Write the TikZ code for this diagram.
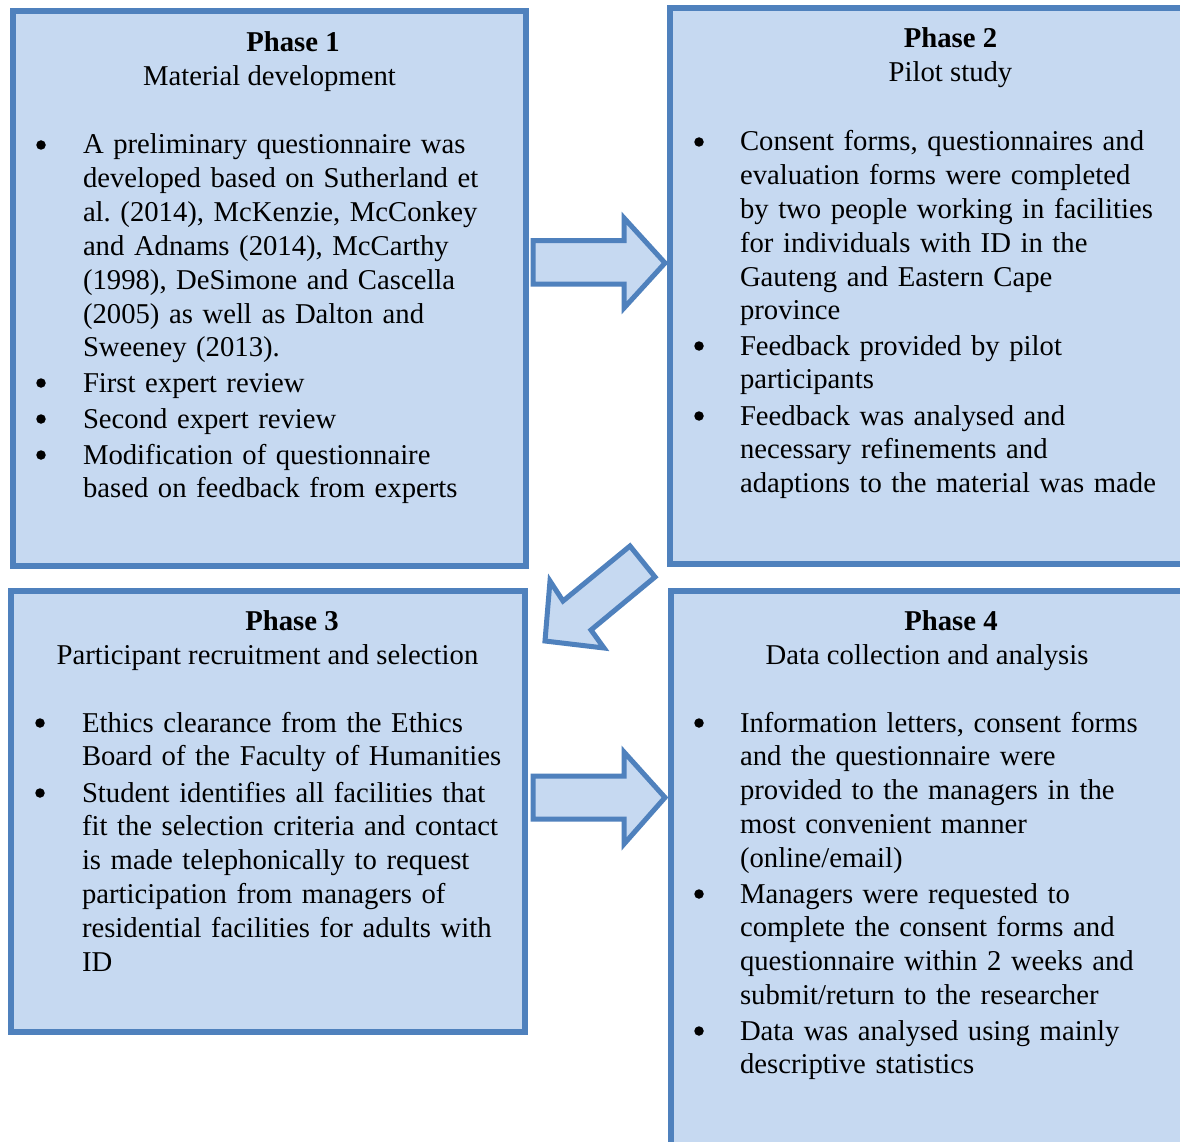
\documentclass[tikz,border=0pt]{standalone}
\usepackage{fontspec}
\setmainfont{Liberation Serif}
\frenchspacing
\definecolor{boxfill}{HTML}{C6D9F1}
\definecolor{boxline}{HTML}{4F81BD}
\tikzset{
  phasebox/.style={draw=boxline, fill=boxfill, line width=6pt, rectangle, inner sep=0pt, outer sep=0pt},
  blockarrow/.style={draw=boxline, fill=boxfill, line width=5pt, line join=miter},
  txt/.style={font=\fontsize{28.7}{33.8}\selectfont\frenchspacing, inner sep=0pt, outer sep=0pt},
  ttl/.style={txt, anchor=base},
  bul/.style={circle, fill=black, inner sep=0pt, minimum size=9.5pt},
  itm/.style={txt, anchor=base west, text width=520pt, align=left},
}
\newcommand\bitem[5]{%
  \node[bul] (#1b) at (#2,#4-9) {};
  \node[itm] (#1) at (#3,#4) {#5};}
\begin{document}
\begin{tikzpicture}[x=1pt,y=-1pt]
\useasboundingbox (0,0) rectangle (1180,1142);
\clip (0,0) rectangle (1180,1142);
\fill[white] (0,0) rectangle (1180,1142);
% boxes
\node[phasebox, minimum width=513pt, minimum height=555pt] (p1) at (269.5,288.5) {};
\node[phasebox, minimum width=514pt, minimum height=556pt] (p2) at (927,286) {};
\node[phasebox, minimum width=513.5pt, minimum height=441pt] (p3) at (267.75,811.5) {};
\node[phasebox, minimum width=513.5pt, minimum height=554pt] (p4) at (927.25,868) {};
% arrows
\draw[blockarrow] (533,240.5) -- (624,240.5) -- (624,218) -- (665,263) -- (624,308) -- (624,284) -- (533,284) -- cycle;
\draw[blockarrow] (533,776) -- (624,776) -- (624,752) -- (665,797.5) -- (624,844) -- (624,819) -- (533,819) -- cycle;
\draw[blockarrow] (630,546) -- (655,577) -- (591,630) -- (604,648) -- (545,641) -- (550,581) -- (563,601) -- cycle;
% Phase 1
\node[ttl] (t1) at (293,52) {\textbf{Phase 1}};
\node[ttl] (s1) at (269.5,86) {Material development};
\bitem{a1}{41}{83}{154}{A preliminary questionnaire was\\developed based on Sutherland et\\al. (2014), McKenzie, McConkey\\and Adnams (2014), McCarthy\\(1998), DeSimone and Cascella\\(2005) as well as Dalton and\\Sweeney (2013).}
\bitem{a2}{41}{83}{392}{First expert review}
\bitem{a3}{41}{83}{428}{Second expert review}
\bitem{a4}{41}{83}{464}{Modification of questionnaire\\based on feedback from experts}
% Phase 2
\node[ttl] (t2) at (950.5,48) {\textbf{Phase 2}};
\node[ttl] (s2) at (950.5,82) {Pilot study};
\bitem{b1}{699}{740}{151}{Consent forms, questionnaires and\\evaluation forms were completed\\by two people working in facilities\\for individuals with ID in the\\Gauteng and Eastern Cape\\province}
\bitem{b2}{699}{740}{355}{Feedback provided by pilot\\participants}
\bitem{b3}{699}{740}{425}{Feedback was analysed and\\necessary refinements and\\adaptions to the material was made}
% Phase 3
\node[ttl] (t3) at (292,630) {\textbf{Phase 3}};
\node[ttl] (s3) at (267.5,664) {Participant recruitment and selection};
\bitem{c1}{40}{82}{732}{Ethics clearance from the Ethics\\Board of the Faculty of Humanities}
\bitem{c2}{40}{82}{802}{Student identifies all facilities that\\fit the selection criteria and contact\\is made telephonically to request\\participation from managers of\\residential facilities for adults with\\ID}
% Phase 4
\node[ttl] (t4) at (951,630) {\textbf{Phase 4}};
\node[ttl] (s4) at (927,664) {Data collection and analysis};
\bitem{d1}{699}{740}{732}{Information letters, consent forms\\and the questionnaire were\\provided to the managers in the\\most convenient manner\\(online/email)}
\bitem{d2}{699}{740}{903}{Managers were requested to\\complete the consent forms and\\questionnaire within 2 weeks and\\submit/return to the researcher}
\bitem{d3}{699}{740}{1040}{Data was analysed using mainly\\descriptive statistics}
\end{tikzpicture}
\end{document}
